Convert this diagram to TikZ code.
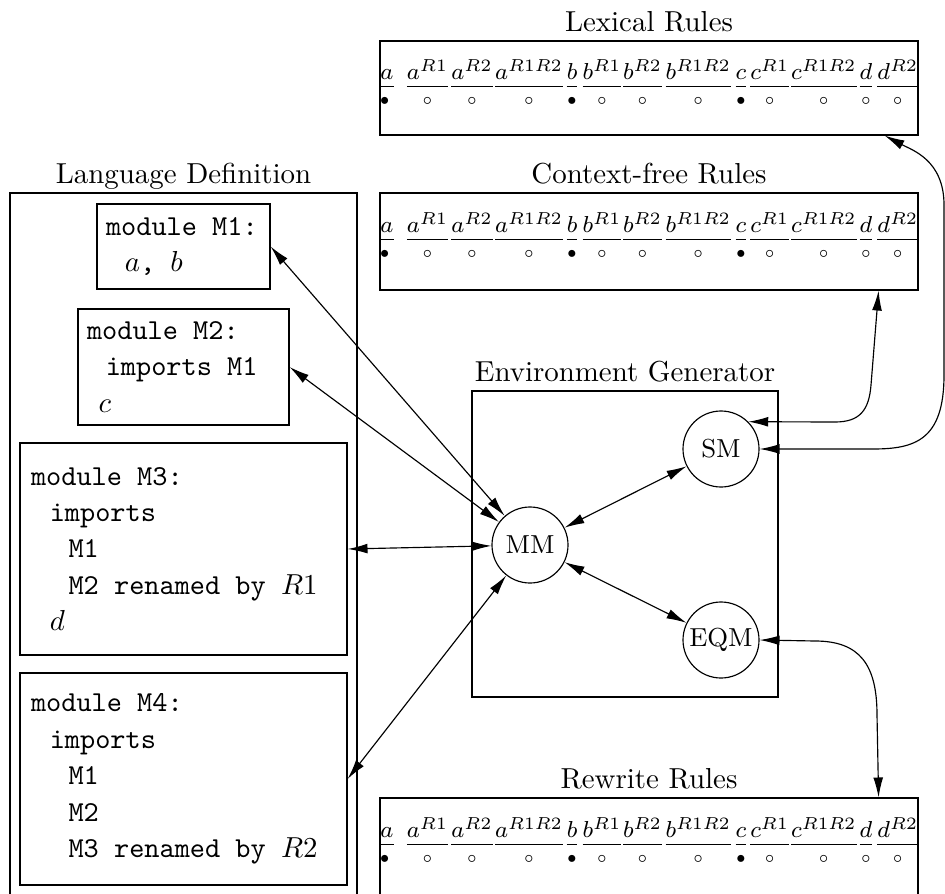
\documentclass[tikz,border=0pt]{standalone}
\usepackage{amsmath}
\usetikzlibrary{arrows.meta,calc}
\newcommand\pxu{0.346pt}
\newcommand\ttsp{\spaceskip=5.25pt\xspaceskip=5.25pt\relax}
\newcommand\rfrac[2]{\vbox{\offinterlineskip
  \halign{\hfil##\hfil\cr
    $#1$\cr
    \noalign{\kern2.1pt\hrule\kern3.6pt}
    $\scriptscriptstyle #2$\cr}}}
\begin{document}
\begin{tikzpicture}[x=0.346pt,y=-0.346pt,
  box/.style={draw, rectangle, inner sep=0pt},
  modbox/.style={draw, rectangle, align=left, inner ysep=0pt,
    font=\ttfamily\fontsize{10}{12.6}\selectfont},
  ttl/.style={anchor=base, inner sep=0pt},
  mach/.style={draw, circle, minimum size=26.3pt, inner sep=0pt,
    font=\fontsize{9}{10}\selectfont},
  item/.style={anchor=base, inner sep=0pt, font=\footnotesize},
  link/.style={{Latex[length=6.9pt,width=3.4pt]}-{Latex[length=6.9pt,width=3.4pt]}},
]
\useasboundingbox (0,0) rectangle (945,894);

% rule boxes
\node[box, minimum width=538*\pxu, minimum height=94*\pxu] (lex) at (649,88) {};
\node[box, minimum width=538*\pxu, minimum height=97*\pxu] (cf) at (649,241.5) {};
\node[box, minimum width=538*\pxu, minimum height=97*\pxu] (rw) at (649,846.5) {};
\node[ttl] (lext) at ($(lex.north)+(0,-9)$) {Lexical Rules};
\node[ttl] (cft) at ($(cf.north)+(0,-9)$) {Context-free Rules};
\node[ttl] (rwt) at ($(rw.north)+(0,-9)$) {Rewrite Rules};

% rule rows (y = position of the fraction bar)
\foreach \yy/\nm in {86.7/lx, 240.2/cf, 845.2/rw}{
  \foreach \xx/\num/\den [count=\i] in {
      386.8/a/{\bullet\hskip1.5pt}, 427.5/{a^{R1}}/\circ, 472/{a^{R2}}/\circ,
      529/{a^{R1R2}}/\circ, 572/b/\bullet, 602/{b^{R1}}/\circ,
      642.5/{b^{R2}}/\circ, 698.3/{b^{R1R2}}/\circ, 741/c/\bullet,
      769.7/{c^{R1}}/\circ, 823.8/{c^{R1R2}}/\circ, 866/d/\circ,
      897.8/{d^{R2}}/\circ}{
    \node[item] (\nm\i) at (\xx,\yy+17.5) {\rfrac{\num}{\den}};
  }
}

% language definition
\node[box, minimum width=347*\pxu, minimum height=720*\pxu] (lang) at (183.5,553) {};
\node[ttl] (langt) at ($(lang.north)+(0,-9)$) {Language Definition};

\node[modbox, minimum width=173*\pxu, minimum height=85*\pxu,
      inner xsep=9*\pxu, text width=155*\pxu] (m1) at (183.5,246.5)
  {\ttsp module M1:\\\hspace*{6.5pt}$a$, $b$};
\node[modbox, minimum width=211*\pxu, minimum height=116*\pxu,
      inner xsep=9*\pxu, text width=193*\pxu] (m2) at (183.5,367)
  {\ttsp module M2:\\\hspace*{6.5pt}imports M1\\\hspace*{4pt}$c$};
\node[modbox, minimum width=327*\pxu, minimum height=212*\pxu,
      inner xsep=11*\pxu, text width=305*\pxu] (m3) at (183.5,549)
  {\ttsp module M3:\\\hspace*{6.5pt}imports\\\hspace*{13pt}M1\\
   \hspace*{13pt}M2 renamed by $R1$\\\hspace*{6.5pt}$d$};
\node[modbox, minimum width=327*\pxu, minimum height=212*\pxu,
      inner xsep=11*\pxu, text width=305*\pxu] (m4) at (183.5,779)
  {\ttsp module M4:\\\hspace*{6.5pt}imports\\\hspace*{13pt}M1\\
   \hspace*{13pt}M2\\\hspace*{13pt}M3 renamed by $R2$};

% environment generator
\node[box, minimum width=306*\pxu, minimum height=306*\pxu] (env) at (625,544) {};
\node[ttl] (envt) at ($(env.north)+(0,-9)$) {Environment Generator};
\node[mach] (mm) at (530,545) {MM};
\node[mach] (sm) at (721,449) {SM};
\node[mach] (eqm) at (721,640) {EQM};

% connectors
\draw[link] (m1.east) -- (mm);
\draw[link] (m2.east) -- (mm);
\draw[link] (m3.east) -- (mm);
\draw[link] (m4.east) -- (mm);
\draw[link] (mm) -- (sm);
\draw[link] (mm) -- (eqm);
\draw[link] (sm.45) -- (835,422) .. controls (860,422) and (869,410) .. (871,385)
  -- ($(cf.south east)+(-40,0)$);
\draw[link] (sm.east) -- (873,449) .. controls (915,449) and (944,440) .. (944,375)
  -- (944,205) .. controls (944,160) and (912,150) .. ($(lex.south east)+(-34,0)$);
\draw[link] (eqm.east) -- (815,641) .. controls (860,641) and (877,665) .. (877,715)
  -- ($(rw.north east)+(-40,0)$);
\end{tikzpicture}
\end{document}
